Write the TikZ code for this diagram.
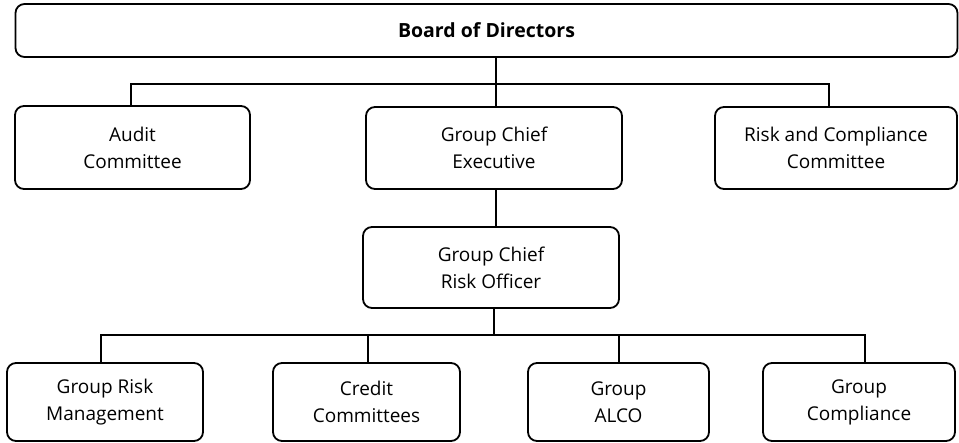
\documentclass[tikz,border=0pt]{standalone}
\usepackage{fontspec}
\setmainfont{Open Sans}
\begin{document}
\begin{tikzpicture}[x=1pt,y=-1pt,
  box/.style={draw, line width=1.8pt, rounded corners=9pt, align=center,
    inner sep=0pt, font=\fontsize{19}{27}\selectfont},
  link/.style={line width=1.8pt}]
\useasboundingbox (0,0) rectangle (959,443);
% top level
\node[box, minimum width=942pt, minimum height=53pt, font=\bfseries\fontsize{19.5}{27}\selectfont] (board) at (486.5,30.5) {Board of Directors};
% second level
\node[box, minimum width=235pt, minimum height=83pt] (audit) at (132.5,147.5) {Audit\\Committee};
\node[box, minimum width=256pt, minimum height=82pt] (gce) at (494,148) {Group Chief\\Executive};
\node[box, minimum width=242pt, minimum height=82pt] (rcc) at (836,148) {Risk and Compliance\\Committee};
% third level
\node[box, minimum width=256pt, minimum height=81pt] (gcro) at (491,267.5) {Group Chief\\Risk Officer};
% bottom level
\node[box, minimum width=196pt, minimum height=78pt] (grm) at (105,402) {Group Risk\\Management};
\node[box, minimum width=187pt, minimum height=78pt] (credit) at (366.5,402) {Credit\\Committees};
\node[box, minimum width=181pt, minimum height=78pt] (alco) at (618.5,402) {Group\\ALCO};
\node[box, minimum width=192pt, minimum height=78pt] (comp) at (859,402) {Group\\Compliance};
% upper bus
\coordinate (ua) at (131,84);
\coordinate (ug) at (496,84);
\coordinate (ur) at (829,84);
\draw[link] (board.south -| ug) -- (ug);
\draw[link] (ua |- audit.north) -- (ua) -- (ur) -- (ur |- rcc.north);
\draw[link] (ug) -- (ug |- gce.north);
\draw[link] (ug |- gce.south) -- (ug |- gcro.north);
% lower bus
\coordinate (lo) at (494,335);
\coordinate (l1) at (101,335);
\coordinate (l2) at (368,335);
\coordinate (l3) at (619,335);
\coordinate (l4) at (865,335);
\draw[link] (lo |- gcro.south) -- (lo);
\draw[link] (l1 |- grm.north) -- (l1) -- (l4) -- (l4 |- comp.north);
\draw[link] (l2) -- (l2 |- credit.north);
\draw[link] (l3) -- (l3 |- alco.north);
\end{tikzpicture}
\end{document}
